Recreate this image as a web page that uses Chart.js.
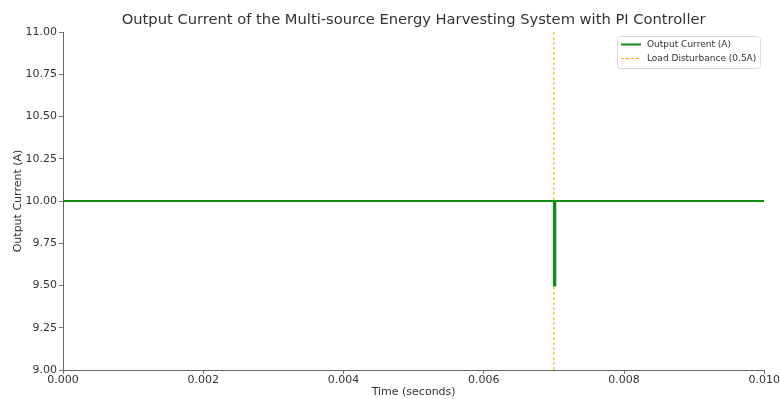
<!DOCTYPE html>
<html><head><meta charset="utf-8">
<script src="https://cdn.jsdelivr.net/npm/chart.js@4"></script>
<style>html,body{margin:0;padding:0;background:#fff}#wrap{width:780px;height:399px}</style>
</head><body><div id="wrap"><canvas id="c"></canvas></div>
<script>
const chartTitle = "Output Current of the Multi-source Energy Harvesting System with PI Controller";
const timeSeconds = [0, 0.007, 0.007, 0.00702, 0.00702, 0.01];
const outputCurrent = [10, 10, 9.5, 9.5, 10, 10];
const disturbanceTime = [0.007, 0.007];
const disturbanceSpan = [9, 11];
const xTicks = [0, 0.002, 0.004, 0.006, 0.008, 0.010];
const yTicks = [9.00, 9.25, 9.50, 9.75, 10.00, 10.25, 10.50, 10.75, 11.00];
const seriesNames = ["Output Current (A)", "Load Disturbance (0.5A)"];

const FONT = "'DejaVu Sans', sans-serif";
const GREEN = '#158c15';
const ORANGE = '#ffa500';

const titlePlugin = {
  id: 'customTitle',
  afterDraw(chart) {
    const {ctx, chartArea} = chart;
    ctx.save();
    ctx.fillStyle = '#333';
    ctx.font = "14.7px " + FONT;
    ctx.textAlign = 'center';
    ctx.textBaseline = 'middle';
    ctx.fillText(chartTitle, (chartArea.left + chartArea.right) / 2, 20);
    // legend
    const x0 = 617, y0 = 36, w = 143, h = 32;
    ctx.fillStyle = 'rgba(255,255,255,0.85)';
    ctx.strokeStyle = '#d8d8d8';
    ctx.lineWidth = 1;
    ctx.beginPath();
    if (ctx.roundRect) ctx.roundRect(x0 + 0.5, y0 + 0.5, w, h, 3); else ctx.rect(x0 + 0.5, y0 + 0.5, w, h);
    ctx.fill(); ctx.stroke();
    ctx.font = "9px " + FONT;
    ctx.textAlign = 'left';
    ctx.fillStyle = '#333';
    ctx.strokeStyle = GREEN; ctx.lineWidth = 2; ctx.setLineDash([]);
    ctx.beginPath(); ctx.moveTo(621, 44.5); ctx.lineTo(641, 44.5); ctx.stroke();
    ctx.fillText(seriesNames[0], 647, 45);
    ctx.strokeStyle = ORANGE; ctx.lineWidth = 1; ctx.setLineDash([3, 2]);
    ctx.beginPath(); ctx.moveTo(621, 58.5); ctx.lineTo(641, 58.5); ctx.stroke();
    ctx.fillText(seriesNames[1], 647, 59);
    ctx.restore();
  }
};

new Chart(document.getElementById('c'), {
  type: 'scatter',
  data: {
    datasets: [
      {
        label: seriesNames[1],
        data: disturbanceTime.map((t, i) => ({x: t, y: disturbanceSpan[i]})),
        showLine: true, borderColor: ORANGE, borderWidth: 1, borderDash: [3, 2],
        pointRadius: 0, order: 2
      },
      {
        label: seriesNames[0],
        data: timeSeconds.map((t, i) => ({x: t, y: outputCurrent[i]})),
        showLine: true, borderColor: GREEN, borderWidth: 2,
        pointRadius: 0, order: 1
      }
    ]
  },
  options: {
    responsive: true, maintainAspectRatio: false, animation: false,
    layout: {padding: {top: 32, right: 15, left: 12, bottom: 0}},
    plugins: {legend: {display: false}, title: {display: false}, tooltip: {enabled: false}},
    scales: {
      x: {
        type: 'linear', min: 0, max: 0.01,
        afterBuildTicks(s) { s.ticks = xTicks.map(v => ({value: v})); },
        afterFit(s) { s.height = 29; },
        ticks: {color: '#333', font: {family: FONT, size: 11}, padding: 0, maxRotation: 0,
          callback: v => Number(v).toFixed(3)},
        grid: {drawOnChartArea: false, drawTicks: true, tickLength: 4, color: '#777'},
        border: {display: true, color: '#666', width: 1},
        title: {display: true, text: 'Time (seconds)', color: '#333', font: {family: FONT, size: 11}, padding: {top: 2, bottom: 0}}
      },
      y: {
        type: 'linear', min: 9, max: 11,
        afterBuildTicks(s) { s.ticks = yTicks.map(v => ({value: v})); },
        afterFit(s) { s.width = 51; },
        ticks: {color: '#333', font: {family: FONT, size: 11}, padding: 2,
          callback: v => Number(v).toFixed(2)},
        grid: {drawOnChartArea: false, drawTicks: true, tickLength: 4, color: '#777'},
        border: {display: true, color: '#666', width: 1},
        title: {display: true, text: 'Output Current (A)', color: '#333', font: {family: FONT, size: 11}, padding: {top: 0, bottom: 4}}
      }
    }
  },
  plugins: [titlePlugin]
});
</script></body></html>
